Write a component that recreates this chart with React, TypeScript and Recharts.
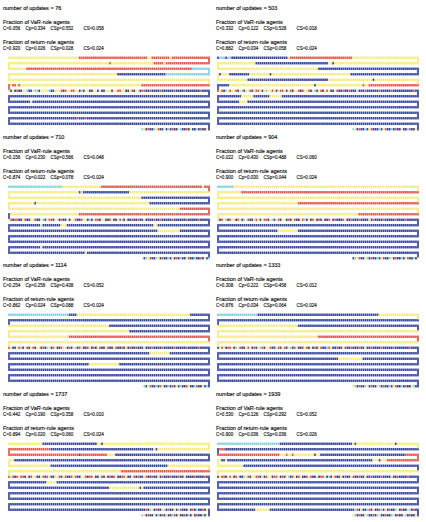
import React from "react";
import { ScatterChart, Scatter, XAxis, YAxis } from "recharts";

const COLORS: Record<string, string> = {
  Y: "#f6eb7c",
  R: "#e3534c",
  B: "#34469e",
  C: "#80d0de",
};

const updates = [76, 503, 710, 904, 1114, 1333, 1737, 1939];

const varFractions = [
  [0.056, 0.334, 0.552, 0.058],
  [0.332, 0.122, 0.528, 0.018],
  [0.156, 0.23, 0.566, 0.048],
  [0.022, 0.43, 0.488, 0.06],
  [0.254, 0.256, 0.438, 0.052],
  [0.308, 0.222, 0.458, 0.012],
  [0.442, 0.19, 0.358, 0.01],
  [0.53, 0.126, 0.292, 0.052],
];

const returnFractions = [
  [0.92, 0.026, 0.028, 0.024],
  [0.882, 0.034, 0.058, 0.024],
  [0.874, 0.022, 0.078, 0.024],
  [0.9, 0.03, 0.044, 0.024],
  [0.862, 0.024, 0.088, 0.024],
  [0.876, 0.034, 0.064, 0.024],
  [0.894, 0.02, 0.06, 0.024],
  [0.9, 0.036, 0.036, 0.026],
];

const fractionLabels = ["C", "Cp", "CSp", "CS"];

// Agent rows (snake order display, left-to-right), run-length tokens or literal cells
const rows76 = [
  "Y35 R34 Y2 R9 Y1 R19",
  "Y50 R1 Y21 R5 Y1 R22",
  "Y9 R82 C9",
  "Y54 B24 C22",
  "Y100",
  "R1 Y1 R2 Y1 R1 Y60 R34",
  "YBYBRBBYYC BBYCCBYYYY CBBYYYRBRY YRRYYBCBYY BBYYBYBBYY YBYYRRYYBB YRBYYBRRBB RBBBBRBBBB BBRBBBBRBB BBBBBRBBBB",
  "B100",
  "B11 Y1 B88",
  "B100",
  "B100",
  "B34 R1 B3 R1 B61",
  "B100",
  "CYBRBBCYRB BYBCBRBBYC BBRBYBBCBR BBYB",
];

const rows503 = [
  "B1 C3 B1 C2 B28 Y1 R31 Y33",
  "Y19 B36 Y2 B1 Y42",
  "Y50 B50",
  "Y1 B1 Y4 B10 Y10 B1 Y39 B34",
  "Y15 B40 Y22 B1 Y22",
  "B6 Y42 B1 Y23 R1 Y2 R25",
  "RYRBCYRYYR BYCBYYRBYR RYBYCYYRYB YRRYBYRBYY RBRYYRBYCB YRBYRYBBYR BBRBBRBBBY BBBRBBBBBB RBBBBBRBBB BBBBBBBRBB",
  "B12 Y6 B8 Y6 B68",
  "B11 Y4 B85",
  "B100",
  "B100",
  "B100",
  "B100",
  "CYBRBBCBYR BBBCBYRBBC BRBBYBBCRB BYB",
];

const rows710 = [
  "C27 Y19 R50 Y1 R3",
  "Y35 B1 Y1 B23 Y40",
  "Y66 B34",
  "Y13 B1 Y56 B30",
  "Y85 R15",
  "B1 Y34 R65",
  "YRBRRBBYRB BYYRBBYCBY RRBYYBRBBY BYYRBBRYYB CBYRRBYYBB RYBBYRCBYB BRBBRBBYBB BBRBBRBBBB BRBBBBBBRB BBBBRBBBBB",
  "B16 Y1 B9 Y3 B43 Y2 B26",
  "B74 Y11 B15",
  "B100",
  "B100",
  "B16 Y1 B83",
  "B38 Y1 B61",
  "BCYRBBCYBR BBCBYBRBCB BYRBBCBBRB YBC",
];

const rows904 = [
  "C8 Y92",
  "Y12 R88",
  "Y100",
  "Y40 R60",
  "Y100",
  "Y70 R30",
  "YBRYCBRYYB RYBCYRBBYR YBYRRBYCBY RBYYBRBYRB BYRCBYBRYB RBYBBRYBRB BBRYBBRBBB RBBBBYBRBB BBRBBBBBRB BBBRBBBBBB",
  "B100",
  "B30 Y10 B60",
  "B100",
  "B100",
  "B100",
  "B100",
  "BCYRBBYCBR BBCBYRBBCY BRBBCBYRBB CBY",
];

const rows1114 = [
  "C30 B4 Y56 B10",
  "B100",
  "Y50 B50",
  "Y60 B40",
  "Y30 R70",
  "Y100",
  "RYBBYRCBYR BYRBYYBRBC YBRYBBRYYB RBYCBRYBBR YBRBYRBBYR BBYRBBRBYB RBBRBBBYBB BRBBBBRBBB BBRBBBBBRB BBBBRBBBBB",
  "B70 Y10 B20",
  "B100",
  "B40 Y15 B45",
  "B100",
  "B100",
  "B100",
  "CBYRBBCBRY BBCBRBYBCB BRYBBCRBBY BCB",
];

const rows1333 = [
  "C20 B60 Y20",
  "B100",
  "Y40 B60",
  "Y100",
  "Y50 R50",
  "Y100",
  "BYRYBRRYBC YRBBYRYBRB YCRBYYRBBY RBYRBYCBRY BBRYRBYBRB YRBBCRYBBR BBYRBBRBBB RBBYBBRBBB BRBBBBBRBB BBBBBRBBBB",
  "B100",
  "B60 Y12 B28",
  "B100",
  "B100",
  "B100",
  "B100",
  "YCBRBBCYBR BBYCBRBBCB YRBBCBRBBY CBB",
];

const rows1737 = [
  "Y17 B27 Y2 B1 Y53",
  "R21 B51 Y1 B1 Y26",
  "R35 B1 R13 Y4 B47",
  "Y3 B97",
  "Y21 B58 Y21",
  "Y56 R44",
  "RYRBRYRRBY BRYYBBYRBR YBBYYRBYRB BRYRBBYYRB RRYBBYRBYB RBRYBBRRYB BYRBRBBYRB BRBBYBRBBB RBBBRBBYBB BBRBBBBRBB",
  "B19 Y5 B76",
  "B50 Y15 B1 Y1 B33",
  "B100",
  "B100",
  "B100",
  "B67 BRBCYBRBBY CBRBBYBCRB BBYBRBCBBR BYB",
  "CYBRBBYBCB RBYBBCRBYB BRBCBYBRBB CBYB",
];

const rows1939 = [
  "C31 B36 Y1 B1 Y19 B1 Y11",
  "B1 R3 B96",
  "R31 Y3 R1 Y2 R1 Y10 B1 Y2 B42 R7",
  "Y2 B2 Y1 B72 Y3 B1 Y3 R16",
  "Y13 B87",
  "Y100",
  "BYRRBYRYBR YBBCYRBYYR RBYBRYYBRR YBRBYCBRYB RYBBRYRBBY BRRYBCBYRB BYBRBBYRBB RBBYBBRBBB BRBBBBYBBR BBBBRBBBBB",
  "B100",
  "B100",
  "B100",
  "B100",
  "B100",
  "B19 Y7 B42 CRBYBBCRBY BBRCBYBRBB CYBRBBYCBR BB",
  "YCBRBBYCBB RBCYBBRBBC YBRBBYCBRB BYB",
];

const panelRows = [rows76, rows503, rows710, rows904, rows1114, rows1333, rows1737, rows1939];

function parseRow(s: string): string[] {
  const out: string[] = [];
  for (const tok of s.trim().split(/\s+/)) {
    const m = tok.match(/^([YRBC])(\d+)$/);
    if (m) {
      for (let i = 0; i < Number(m[2]); i++) out.push(m[1]);
    } else {
      for (const ch of tok) out.push(ch);
    }
  }
  return out;
}

type CellPt = { x: number; y: number; c: string; k: number };

function buildCells(rows: string[]): CellPt[] {
  const parsed = rows.map(parseRow);
  const cells: CellPt[] = [];
  parsed.forEach((row, r) => {
    const start = r === parsed.length - 1 ? 100 - row.length : 0;
    row.forEach((c, k) => cells.push({ x: start + k, y: r, c, k: 0 }));
  });
  for (let r = 0; r < parsed.length - 1; r++) {
    const right = r % 2 === 0;
    const row = parsed[r];
    const c = right ? row[row.length - 1] : row[0];
    cells.push({ x: right ? 99 : 0, y: r + 0.5, c, k: 1 });
  }
  return cells;
}

const CellShape = (props: any) => {
  const { cx, cy, payload } = props;
  if (cx == null || cy == null) return null;
  const h = payload.k ? 3.6 : 2.4;
  return (
    <rect
      x={cx - 0.85}
      y={cy - h / 2}
      width={1.7}
      height={h}
      fill={COLORS[payload.c]}
    />
  );
};

const PANEL_TOPS = [0, 129, 257, 386];

function Grid({ rows }: { rows: string[] }) {
  const data = buildCells(rows);
  return (
    <ScatterChart width={202} height={77} margin={{ top: 0, right: 0, bottom: 0, left: 0 }}>
      <XAxis type="number" dataKey="x" domain={[-0.5, 99.5]} hide />
      <YAxis type="number" dataKey="y" domain={[-0.5, 13.5]} reversed hide />
      <Scatter data={data} shape={<CellShape />} isAnimationActive={false} />
    </ScatterChart>
  );
}

export default function App() {
  const fmt = (v: number) => v.toFixed(3);
  const textStyle = {
    fontFamily: "'Liberation Sans', Arial, sans-serif",
    fontSize: 5.5,
    fill: "#111",
    stroke: "#111",
    strokeWidth: 0.15,
  };
  const groupOffsets = [0, 22.5, 47.5, 80.5];
  return (
    <div style={{ position: "absolute", left: 0, top: 0, width: 426, height: 522, background: "#fff" }}>
      {panelRows.map((rows, i) => {
        const col = i % 2;
        const top = PANEL_TOPS[Math.floor(i / 2)];
        return (
          <div
            key={"g" + i}
            style={{ position: "absolute", left: col ? 217 : 8, top: top + 54.95, width: 202, height: 77 }}
          >
            <Grid rows={rows} />
          </div>
        );
      })}
      <svg width={426} height={522} style={{ position: "absolute", left: 0, top: 0, pointerEvents: "none" }}>
        {updates.map((u, i) => {
          const col = i % 2;
          const top = PANEL_TOPS[Math.floor(i / 2)];
          const x0 = col ? 216 : 3;
          return (
            <g key={"t" + i}>
              <text x={x0} y={top + 10} {...textStyle}>{`number of updates = ${u}`}</text>
              <text x={x0} y={top + 24} {...textStyle}>Fraction of VaR-rule agents</text>
              {varFractions[i].map((v, j) => (
                <text
                  key={"v" + j}
                  transform={`translate(${x0 + groupOffsets[j]},${top + 30}) scale(0.82,1)`}
                  {...textStyle}
                >
                  {`${fractionLabels[j]}=${fmt(v)}`}
                </text>
              ))}
              <text x={x0} y={top + 43.5} {...textStyle}>Fraction of return-rule agents</text>
              {returnFractions[i].map((v, j) => (
                <text
                  key={"r" + j}
                  transform={`translate(${x0 + groupOffsets[j]},${top + 49.5}) scale(0.82,1)`}
                  {...textStyle}
                >
                  {`${fractionLabels[j]}=${fmt(v)}`}
                </text>
              ))}
            </g>
          );
        })}
      </svg>
    </div>
  );
}
